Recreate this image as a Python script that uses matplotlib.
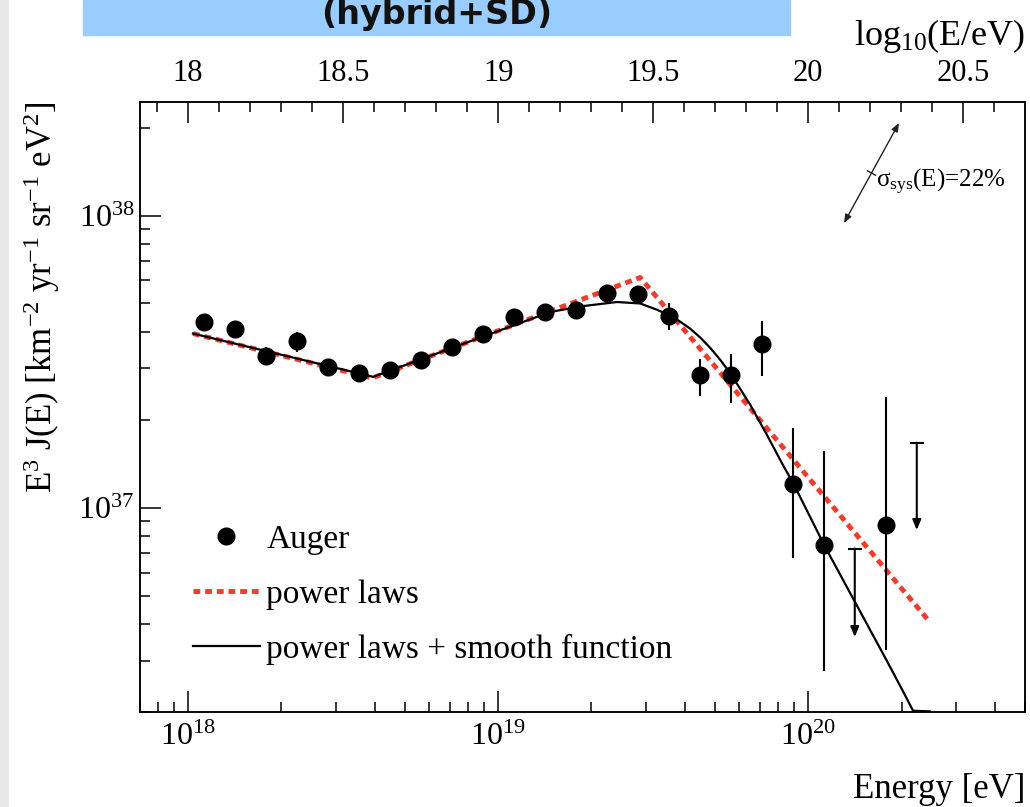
import numpy as np
import matplotlib
matplotlib.use('Agg')
import matplotlib.pyplot as plt
from matplotlib.lines import Line2D
from matplotlib.patches import Rectangle
from matplotlib.ticker import LogLocator, NullFormatter, MultipleLocator, FuncFormatter

plt.rcParams['font.family'] = ['Liberation Serif', 'DejaVu Serif']
plt.rcParams['mathtext.fontset'] = 'custom'
plt.rcParams['mathtext.rm'] = 'Liberation Serif'
plt.rcParams['mathtext.it'] = 'Liberation Serif:italic'
plt.rcParams['mathtext.bf'] = 'Liberation Serif:bold'

# Auger points, log10(E/eV) and E^3 J(E) in units of 1e37
lg_e = [18.05, 18.15, 18.25, 18.35, 18.45, 18.55, 18.65, 18.75, 18.85, 18.95, 19.05,
        19.15, 19.25, 19.35, 19.45, 19.55, 19.65, 19.75, 19.85, 19.95, 20.05, 20.25]
flux = [4.33, 4.10, 3.31, 3.73, 3.02, 2.90, 2.97, 3.20, 3.55, 3.93, 4.50,
        4.68, 4.76, 5.41, 5.37, 4.52, 2.84, 2.84, 3.63, 1.21, 0.743, 0.871]
err_lo = [0.10, 0.09, 0.23, 0.32, 0.06, 0.06, 0.06, 0.07, 0.08, 0.09, 0.10,
          0.12, 0.15, 0.20, 0.25, 0.45, 0.43, 0.55, 0.81, 0.537, 0.466, 0.546]
err_hi = [0.10, 0.09, 0.24, 0.27, 0.06, 0.06, 0.06, 0.07, 0.08, 0.09, 0.10,
          0.12, 0.15, 0.20, 0.25, 0.50, 0.40, 0.53, 0.73, 0.67, 0.817, 1.519]

# upper limits
ul_lg_e = [20.15, 20.35]
ul_top = [0.725, 1.67]
ul_tip = [0.361, 0.839]

# broken power laws (vertices)
pl_lg_e = [18.016, 18.594, 19.458, 20.392]
pl_flux = [3.945, 2.780, 6.138, 0.4064]

# power laws + smooth function
sm_lg_e = [18.016, 18.597, 19.168, 19.274, 19.383, 19.458, 19.511, 19.552, 19.586,
           19.619, 19.651, 19.683, 19.718, 19.753, 19.812, 19.866, 19.919, 19.952,
           20.052, 20.153, 20.253, 20.306, 20.338, 20.392]
sm_flux = [3.945, 2.805, 4.677, 4.898, 5.058, 5.000, 4.764, 4.560, 4.340,
           4.102, 3.830, 3.532, 3.190, 2.838, 2.259, 1.782, 1.396, 1.211,
           0.743, 0.471, 0.300, 0.235, 0.202, 0.201]

scale = 1e37
E = 10 ** np.array(lg_e)
F = np.array(flux) * scale

fig = plt.figure(figsize=(10.3, 8.07), dpi=100)
ax = fig.add_axes([140/1030, 1 - 712/807, 885/1030, (712 - 102.3)/807])

fig.patches.append(Rectangle((0, 0), 8/1030, 1, transform=fig.transFigure,
                             color='#e8e8e8', zorder=0))
fig.patches.append(Rectangle((83/1030, 1 - 35/807), (790 - 83)/1030, 35/807,
                             transform=fig.transFigure, color='#99ccff', zorder=0))
fig.text(437/1030, 1 - 24/807, '(hybrid+SD)', ha='center', va='baseline',
         fontsize=24, weight='bold', family='DejaVu Sans', color='#111111')

ax.plot(10 ** np.array(pl_lg_e), np.array(pl_flux) * scale, color='#f03c2d',
        lw=3.5, dashes=(1.4, 1.0), zorder=3)
ax.plot(10 ** np.array(sm_lg_e), np.array(sm_flux) * scale, color='black',
        lw=1.6, zorder=4)
ax.errorbar(E, F, yerr=[np.array(err_lo) * scale, np.array(err_hi) * scale],
            fmt='o', color='black', ms=12, elinewidth=1.5, capsize=0, zorder=5)

for x, top, tip in zip(ul_lg_e, ul_top, ul_tip):
    ax.annotate('', xy=(10 ** x, tip * scale), xytext=(10 ** x, top * scale),
                arrowprops=dict(arrowstyle='-|>,head_length=0.6,head_width=0.25',
                                color='black', lw=1.5, shrinkA=0, shrinkB=0))
    ax.plot(10 ** x, top * scale, marker='_', ms=10, mew=1.5, color='black')

ax.set_xscale('log')
ax.set_yscale('log')
ax.set_xlim(7e17, 5e20)
ax.set_ylim(2e36, 2.44e38)

ax.xaxis.set_minor_locator(LogLocator(base=10, subs=np.arange(2, 10)))
ax.yaxis.set_minor_locator(LogLocator(base=10, subs=np.arange(2, 10)))
ax.xaxis.set_minor_formatter(NullFormatter())
ax.yaxis.set_minor_formatter(NullFormatter())
ax.tick_params(axis='both', which='both', direction='in', top=False, right=False,
               width=1.1, labelsize=23)
ax.tick_params(axis='both', which='major', length=15)
ax.tick_params(axis='both', which='minor', length=7.5)
ax.tick_params(axis='x', which='major', pad=8)
ax.tick_params(axis='y', which='major', pad=4)
for s in ax.spines.values():
    s.set_linewidth(1.1)

ax2 = ax.twiny()
ax2.set_xlim(np.log10(7e17), np.log10(5e20))
ax2.xaxis.set_major_locator(MultipleLocator(0.5))
ax2.xaxis.set_minor_locator(MultipleLocator(0.1))
ax2.xaxis.set_major_formatter(FuncFormatter(lambda v, p: f'{v:g}'))
ax2.tick_params(axis='x', which='both', direction='in', width=1.1, labelsize=22, pad=10)
ax2.tick_params(axis='x', which='major', length=15)
ax2.tick_params(axis='x', which='minor', length=7.5)
for s in ax2.spines.values():
    s.set_linewidth(1.1)

ax.set_ylabel(r'E$^{3}$ J(E) [km$^{-2}$ yr$^{-1}$ sr$^{-1}$ eV$^{2}$]', fontsize=25)
ax.yaxis.set_label_coords(-0.088, 0.68)
ax.text(1.0, (712 - 790)/610, 'Energy [eV]', transform=ax.transAxes,
        ha='right', va='center', fontsize=25)
ax.text(1.0, (712 - 36)/610, 'log$_{10}$(E/eV)', transform=ax.transAxes,
        ha='right', va='center', fontsize=26)

# systematic uncertainty arrow
ax.annotate('', xy=(0.8576, 0.966), xytext=(0.7955, 0.802), xycoords='axes fraction',
            arrowprops=dict(arrowstyle='<|-|>,head_length=0.5,head_width=0.2',
                            color='#222222', lw=1.0, shrinkA=0, shrinkB=0))
mx, my = (0.8576 + 0.7955) / 2, (0.966 + 0.802) / 2
ax.plot([mx - 4/885, mx + 4/885], [my + 2.2/610, my - 2.2/610], color='#222222',
        lw=1.0, transform=ax.transAxes)
ax.text(0.8313, 0.8693, 'σ$_{\\rm sys}$(E)=22%', transform=ax.transAxes,
        ha='left', va='center', fontsize=18)

handles = [Line2D([], [], marker='o', ls='none', color='black', ms=12),
           Line2D([], [], color='#f03c2d', lw=3.5, dashes=(1.4, 1.0)),
           Line2D([], [], color='black', lw=1.6)]
labels = ['Auger', 'power laws', 'power laws + smooth function']
ax.legend(handles, labels, loc='upper left', bbox_to_anchor=(0.0599, 0.308),
          frameon=False, fontsize=24, borderaxespad=0, borderpad=0,
          handlelength=2.0, handletextpad=0.2, labelspacing=0.73)

fig.savefig('out.png', dpi=100)
